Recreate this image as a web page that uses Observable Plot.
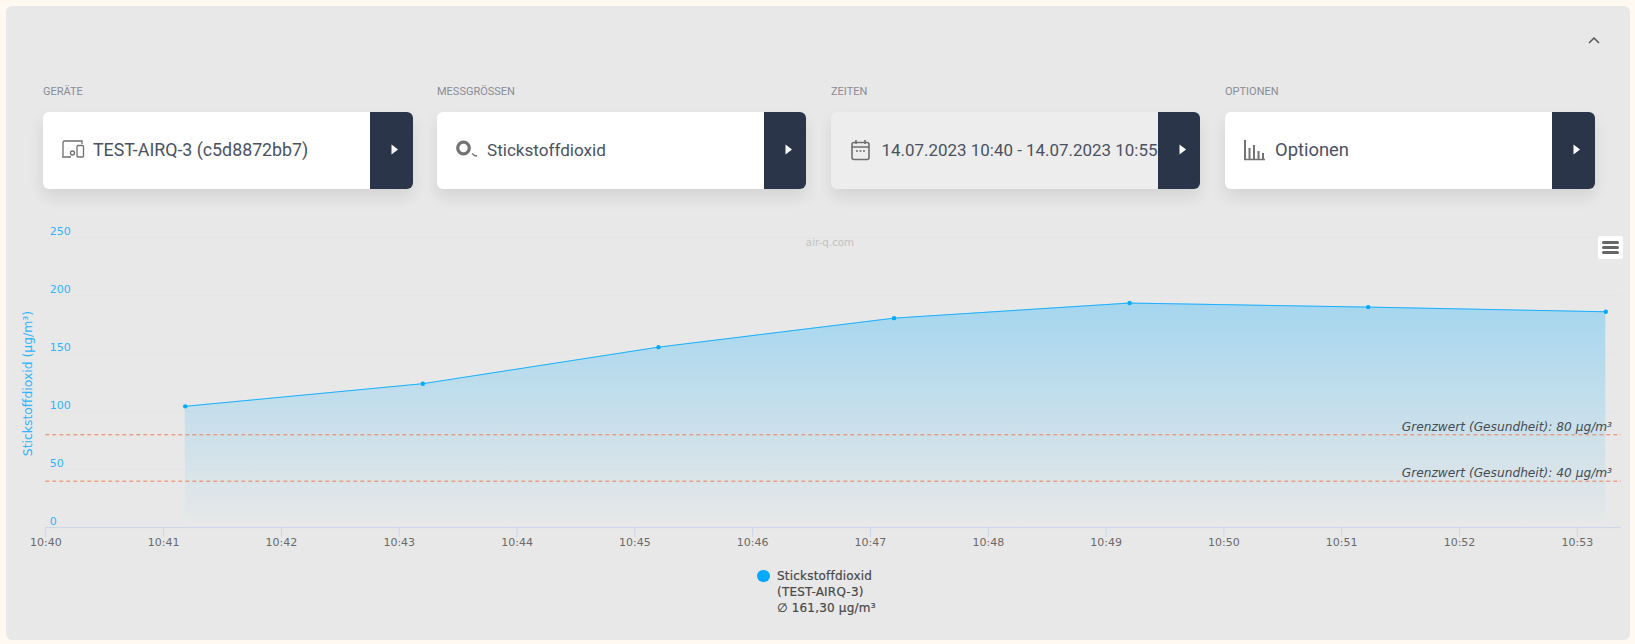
<!DOCTYPE html>
<html lang="de">
<head>
<meta charset="utf-8">
<script src="https://cdn.jsdelivr.net/npm/d3@7"></script>
<script src="https://cdn.jsdelivr.net/npm/@observablehq/plot@0.6"></script>
<style>
html,body{margin:0;padding:0;width:1635px;height:644px;overflow:hidden;background:#fff9f2;}
#panel{position:absolute;left:6px;top:6px;width:1624px;height:634px;background:#e8e8e8;border-radius:6px;}
.lab{position:absolute;top:86px;font:11px/12px Roboto,sans-serif;color:#8b8b95;text-transform:uppercase;}
.card{position:absolute;top:112px;height:77px;background:#fff;border-radius:6px;box-shadow:0 8px 16px rgba(0,0,0,.09);overflow:hidden;}
.card.dim{background:#ededed;}
.card .btn{position:absolute;right:0;top:0;bottom:0;width:42px;background:#2b3549;}
.card .btn svg{position:absolute;left:21px;top:32px;}
.card .txt{position:absolute;top:0;font-family:Roboto,sans-serif;line-height:76px;color:#4a5262;white-space:nowrap;}
.card .ico{position:absolute;top:27px;}
#chart{position:absolute;left:0;top:200.7px;}
#mark{position:absolute;left:730px;top:236px;width:200px;text-align:center;font:10.3px/12px "DejaVu Sans",sans-serif;color:#c2c2c2;}
#menu{position:absolute;left:1598px;top:236px;width:25px;height:23px;background:#fff;border-radius:2px;}
#menu i{position:absolute;left:4px;width:17px;height:3px;border-radius:1.5px;background:#666;}
#chev{position:absolute;left:1587px;top:34px;}
#legend{position:absolute;left:757px;top:568px;font:400 12px/16px "DejaVu Sans",sans-serif;letter-spacing:.2px;color:#484848;-webkit-text-stroke:.2px #484848;}
#legend .dot{position:absolute;left:0;top:1.5px;width:12.6px;height:12.6px;border-radius:50%;background:#00aaff;}
#legend .t{margin-left:20px;white-space:nowrap;}
</style>
</head>
<body>
<div id="panel"></div>
<svg id="chev" width="14" height="12"><path d="M2 9 L7 4 L12 9" fill="none" stroke="#555" stroke-width="1.5"/></svg>
<div id="cards"></div>
<div id="chart"></div>
<div id="mark">air-q.com</div>
<div id="menu"><i style="top:5px"></i><i style="top:10px"></i><i style="top:15px"></i></div>
<div id="legend"><div class="dot"></div><div class="t" id="legendText"></div></div>
<script>
// ---- data ----
const times = ["2023-07-14T10:41:11Z","2023-07-14T10:43:12Z","2023-07-14T10:45:12Z","2023-07-14T10:47:12Z","2023-07-14T10:49:12Z","2023-07-14T10:51:13.5Z","2023-07-14T10:53:14.5Z"];
const values = [104.5, 124, 155.5, 180.5, 193.5, 190, 186];
const limits = [80, 40];
const limitLabels = ["Grenzwert (Gesundheit): 80 µg/m³","Grenzwert (Gesundheit): 40 µg/m³"];
const yTicks = [0, 50, 100, 150, 200, 250];
const xTicks = ["10:40","10:41","10:42","10:43","10:44","10:45","10:46","10:47","10:48","10:49","10:50","10:51","10:52","10:53"];
const xDomain = ["2023-07-14T10:40:00Z","2023-07-14T10:53:22.5Z"];
const yTitle = "Stickstoffdioxid (µg/m³)";
const legendLines = ["Stickstoffdioxid","(TEST-AIRQ-3)","∅ 161,30 µg/m³"];
const cardLabels = ["Geräte","Messgrößen","Zeiten","Optionen"];
const cardTexts = ["TEST-AIRQ-3 (c5d8872bb7)","Stickstoffdioxid","14.07.2023 10:40 - 14.07.2023 10:55","Optionen"];

// ---- page furniture ----
const icons = [
 `<svg class="ico" style="left:18px" width="24" height="20" viewBox="0 0 24 20" fill="none" stroke="#6f6f6f" stroke-width="1.3"><path d="M2 17V3.5a1.5 1.5 0 0 1 1.5-1.5H21v3"/><path d="M1 18h9"/><rect x="16" y="6.5" width="6.5" height="11.5" rx="1"/><circle cx="11.5" cy="14" r="2"/></svg>`,
 `<svg class="ico" style="left:18px" width="24" height="22" viewBox="0 0 24 22" fill="none" stroke="#737373"><circle cx="8.5" cy="9" r="5.8" stroke-width="3.2"/><path d="M17 14.5l3 2.2h2" stroke-width="1.4"/></svg>`,
 `<svg class="ico" style="left:19px" width="22" height="22" viewBox="0 0 22 22" fill="none" stroke="#6f6f6f" stroke-width="1.6"><rect x="2" y="3.5" width="17" height="17" rx="2"/><path d="M2 8h17M6 1v4M15 1v4"/><path d="M6 12h9" stroke-dasharray="2 1.5"/></svg>`,
 `<svg class="ico" style="left:18px" width="24" height="22" viewBox="0 0 24 22" fill="none" stroke="#737373" stroke-width="2"><path d="M2 1v19M6.5 9v11M11 6v14M15.5 12v8M20 14v6"/><path d="M1 20.5h21" stroke-width="1.3"/></svg>`
];
const cardLeft = [43, 437, 831, 1225];
const cardWidth = [370, 369, 369, 370];
const btnWidth = [43, 42, 42, 43];
const labelLeft = [43, 437, 831, 1225];
const textLeft = [50, 50, 50.5, 50];
const textSize = [17.8, 17.1, 16.95, 18.4];
const root = document.getElementById("cards");
cardLabels.forEach((l, i) => {
  root.insertAdjacentHTML("beforeend",
   `<div class="lab" style="left:${labelLeft[i]}px">${l}</div>
    <div class="card${i === 2 ? " dim" : ""}" style="left:${cardLeft[i]}px;width:${cardWidth[i]}px">
      ${icons[i]}<div class="txt" style="left:${textLeft[i]}px;font-size:${textSize[i]}px">${cardTexts[i]}</div>
      <div class="btn" style="width:${btnWidth[i]}px"><svg width="8" height="11"><path d="M0.5 0.5 L7 5.5 L0.5 10.5Z" fill="#fff"/></svg></div>
    </div>`);
});
document.getElementById("legendText").innerHTML = legendLines.join("<br>");

// ---- chart ----
const parse = d3.isoParse;
const data = times.map((t, i) => ({time: parse(t), value: values[i]}));
const limitData = limits.map((v, i) => ({value: v, label: limitLabels[i]}));
const tickDates = xTicks.map(t => parse(`2023-07-14T${t}:00Z`));
const xEnd = parse(xDomain[1]);
const lineBlue = "#1cb0ff";
const textBlue = "#2db4ff";

const chart = Plot.plot({
  width: 1635,
  height: 360,
  marginLeft: 45.3,
  marginRight: 14,
  marginTop: 36,
  marginBottom: 33.9,
  style: {background: "transparent", fontFamily: "'DejaVu Sans',sans-serif", fontSize: "11px", overflow: "visible"},
  x: {type: "utc", domain: xDomain.map(parse)},
  y: {domain: [0, 250]},
  marks: [
    () => {
      const defs = d3.create("svg:defs");
      const g = defs.append("linearGradient").attr("id", "areaFade").attr("x1", 0).attr("x2", 0).attr("y1", 0).attr("y2", 1);
      g.append("stop").attr("offset", "0%").attr("stop-color", "#00aaff").attr("stop-opacity", 0.29);
      g.append("stop").attr("offset", "100%").attr("stop-color", "#00aaff").attr("stop-opacity", 0);
      return defs.node();
    },
    Plot.ruleY(yTicks, {stroke: "#e5e5e5", strokeWidth: 1}),
    Plot.areaY(data, {x: "time", y: "value", fill: "url(#areaFade)"}),
    Plot.axisY(yTicks, {
      anchor: "left", tickSize: 0, tickPadding: 0, textAnchor: "start", dx: 4, dy: -5.7,
      color: textBlue, fontSize: 11, label: null
    }),
    Plot.text([yTitle], {text: d => d, frameAnchor: "left", textAnchor: "middle", rotate: -90, dx: -18, dy: 1, fontSize: 12.4, fill: textBlue}),
    Plot.axisX(tickDates, {
      anchor: "bottom", tickSize: 10, tickPadding: 1, stroke: "#ccd6eb", fill: "#6a6a6a", strokeOpacity: 1,
      tickFormat: d3.utcFormat("%H:%M"), label: null, fontSize: 11
    }),
    Plot.ruleY([0], {stroke: "#ccd6eb", strokeWidth: 1}),
    Plot.ruleY(limitData, {y: "value", stroke: "#ee8058", strokeWidth: 1, strokeDasharray: "4 3"}),
    Plot.text(limitData, {
      x: () => xEnd, y: "value", text: "label", textAnchor: "end", dx: -9.5, dy: -8,
      fontStyle: "italic", fontSize: 12.2, fill: "#444c54"
    }),
    Plot.line(data, {x: "time", y: "value", stroke: lineBlue, strokeWidth: 1}),
    Plot.dot(data, {x: "time", y: "value", r: 2.2, fill: "#00aaff"})
  ]
});
document.getElementById("chart").appendChild(chart);
</script>
</body>
</html>
